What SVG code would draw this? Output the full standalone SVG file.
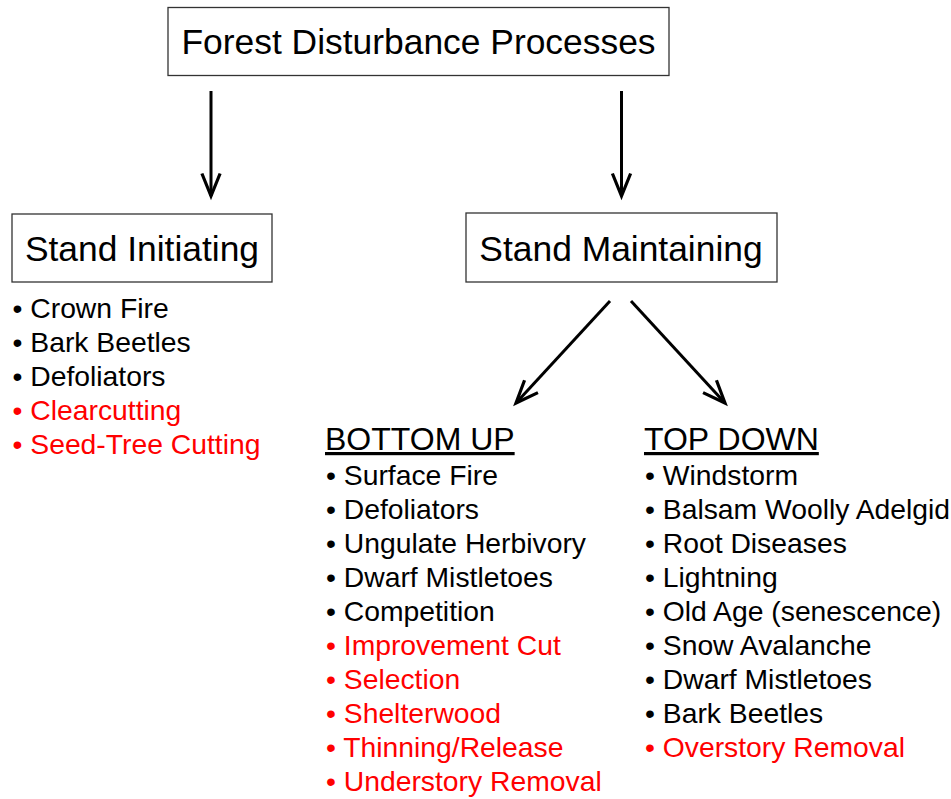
<svg xmlns="http://www.w3.org/2000/svg" width="951" height="799" viewBox="0 0 951 799">
<defs>
<style>
text{font-family:"Liberation Sans",Arial,sans-serif;fill:#000}
.box{fill:#fff;stroke:#333;stroke-width:1.3}
.title{font-size:35.4px}
.hdr{font-size:32px;text-decoration:underline}
.item{font-size:28.3px}
.red{fill:#ff0000}
.conn{stroke:#000;stroke-width:3;fill:none;marker-end:url(#ah)}
</style>
<marker id="ah" markerUnits="userSpaceOnUse" markerWidth="30" markerHeight="30" viewBox="-24 -12 28 24" refX="0" refY="0" orient="auto" overflow="visible">
<path d="M-21,-8.5 L0,0 L-21,8.5" fill="none" stroke="#000" stroke-width="3"/>
</marker>
</defs>
<rect width="951" height="799" fill="#fff"/>
<g id="connectors">
<line class="conn" x1="211" y1="91" x2="211" y2="196"/>
<line class="conn" x1="621.5" y1="91" x2="621.5" y2="196"/>
<line class="conn" x1="610" y1="301" x2="516" y2="403"/>
<line class="conn" x1="631" y1="301" x2="725" y2="403"/>
</g>
<g id="forest-disturbance-processes">
<rect class="box" x="168" y="7.5" width="501" height="68"/>
<text class="title" x="418.5" y="54" text-anchor="middle">Forest Disturbance Processes</text>
</g>
<g id="stand-initiating">
<rect class="box" x="12" y="214" width="260" height="68"/>
<text class="title" x="142" y="261" text-anchor="middle">Stand Initiating</text>
<text class="item" x="12.5" y="318">• Crown Fire</text>
<text class="item" x="12.5" y="352">• Bark Beetles</text>
<text class="item" x="12.5" y="386">• Defoliators</text>
<text class="item red" x="12.5" y="420">• Clearcutting</text>
<text class="item red" x="12.5" y="454">• Seed-Tree Cutting</text>
</g>
<g id="stand-maintaining">
<rect class="box" x="466" y="213" width="311" height="69"/>
<text class="title" x="621" y="261" text-anchor="middle">Stand Maintaining</text>
</g>
<g id="bottom-up">
<text class="hdr" x="325" y="450">BOTTOM UP</text>
<text class="item" x="326" y="485">• Surface Fire</text>
<text class="item" x="326" y="519">• Defoliators</text>
<text class="item" x="326" y="553">• Ungulate Herbivory</text>
<text class="item" x="326" y="587">• Dwarf Mistletoes</text>
<text class="item" x="326" y="621">• Competition</text>
<text class="item red" x="326" y="655">• Improvement Cut</text>
<text class="item red" x="326" y="689">• Selection</text>
<text class="item red" x="326" y="723">• Shelterwood</text>
<text class="item red" x="326" y="757">• Thinning/Release</text>
<text class="item red" x="326" y="791">• Understory Removal</text>
</g>
<g id="top-down">
<text class="hdr" x="644" y="450">TOP DOWN</text>
<text class="item" x="645" y="485">• Windstorm</text>
<text class="item" x="645" y="519">• Balsam Woolly Adelgid</text>
<text class="item" x="645" y="553">• Root Diseases</text>
<text class="item" x="645" y="587">• Lightning</text>
<text class="item" x="645" y="621">• Old Age (senescence)</text>
<text class="item" x="645" y="655">• Snow Avalanche</text>
<text class="item" x="645" y="689">• Dwarf Mistletoes</text>
<text class="item" x="645" y="723">• Bark Beetles</text>
<text class="item red" x="645" y="757">• Overstory Removal</text>
</g>
</svg>
